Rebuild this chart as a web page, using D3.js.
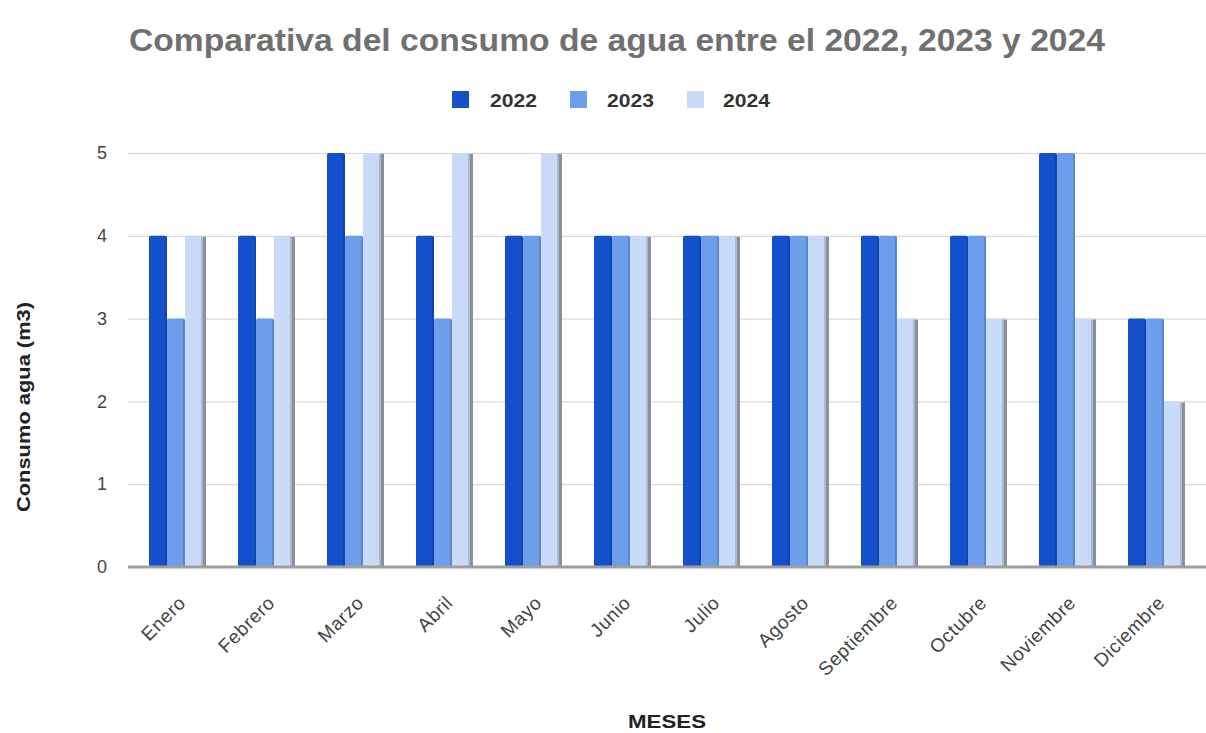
<!DOCTYPE html>
<html><head><meta charset="utf-8">
<script src="https://cdn.jsdelivr.net/npm/d3@7"></script>
<style>body{margin:0;background:#fff}svg{display:block}text{font-family:Arial,"Liberation Sans",sans-serif}</style>
</head><body><svg id="c" width="1206" height="733"></svg>
<script>
const months = ["Enero","Febrero","Marzo","Abril","Mayo","Junio","Julio","Agosto","Septiembre","Octubre","Noviembre","Diciembre"];
const seriesNames = ["2022","2023","2024"];
const v2022 = [4,4,5,4,4,4,4,4,4,4,5,3];
const v2023 = [3,3,4,3,4,4,4,4,4,4,5,3];
const v2024 = [4,4,5,5,5,4,4,4,3,3,3,2];
const yTicks = [0,1,2,3,4,5];
const colors = ["#1450cc","#6d9eeb","#c9daf8"];
const values = [v2022, v2023, v2024];
const FONT = "Arial, 'Liberation Sans', sans-serif";

const svg = d3.select("#c");
const x = d3.scaleBand().domain(months).range([131.5,1199.5]);
const y = d3.scaleLinear().domain([0,5]).range([567,153]);
const xs = d3.scaleBand().domain(seriesNames).range([0,54]);

// title
svg.append("text").attr("x",617).attr("y",51).attr("text-anchor","middle")
  .attr("font-size",31).attr("font-weight","bold").attr("fill","#707070")
  .attr("textLength",976).attr("lengthAdjust","spacingAndGlyphs")
  .text("Comparativa del consumo de agua entre el 2022, 2023 y 2024");

// legend
const lg = svg.append("g");
const sq = [452,570,687];
const lt = [490,607,723];
seriesNames.forEach((s,i)=>{
  lg.append("rect").attr("x",sq[i]).attr("y",91).attr("width",17).attr("height",17).attr("fill",colors[i]);
  lg.append("text").attr("x",lt[i]).attr("y",107).attr("font-size",18).attr("font-weight","bold").attr("fill","#333")
    .attr("textLength",47).attr("lengthAdjust","spacingAndGlyphs").text(s);
});

// grid
const yAxis = d3.axisLeft(y).tickValues(yTicks).tickFormat(d3.format("d")).tickSize(-(1206-128)).tickPadding(21);
const ga = svg.append("g").attr("transform","translate(128,0)").call(yAxis);
ga.select(".domain").remove();
ga.selectAll(".tick line").attr("stroke","#d0d0d0").attr("stroke-width",1);
ga.selectAll(".tick text").attr("font-size",18).attr("fill","#444").attr("font-family",FONT);

// bars
const groups = svg.append("g").selectAll("g").data(months).join("g")
  .attr("transform",d=>`translate(${x(d)+x.bandwidth()/2-27},0)`);
groups.each(function(m,mi){
  const g = d3.select(this);
  seriesNames.forEach((s,si)=>{
    const val = values[si][mi];
    if(si===2){
      g.append("rect").attr("x",xs(s)+3).attr("y",y(val)+1).attr("width",xs.bandwidth()).attr("height",y(0)-y(val)-1)
        .attr("fill","#8a8f99");
    }
    g.append("rect").attr("x",xs(s)).attr("y",y(val)).attr("width",xs.bandwidth()).attr("height",y(0)-y(val))
      .attr("rx",2).attr("fill",colors[si]);
    g.append("rect").attr("x",xs(s)+xs.bandwidth()-2).attr("y",y(val)+1).attr("width",2).attr("height",y(0)-y(val)-1)
      .attr("fill","#000").attr("opacity",0.15);
  });
});

// baseline
svg.append("line").attr("x1",128).attr("x2",1206).attr("y1",y(0)).attr("y2",y(0)).attr("stroke","#9e9e9e").attr("stroke-width",3);

// x labels
const xAxis = d3.axisBottom(x).tickSize(0).tickPadding(0);
const gx = svg.append("g").attr("transform",`translate(0,${y(0)})`).call(xAxis);
gx.select(".domain").remove();
gx.selectAll(".tick text").attr("font-size",19).attr("fill","#444").attr("text-anchor","end")
  .attr("font-family",FONT).attr("letter-spacing",0.6)
  .attr("transform","translate(11,37) rotate(-45)").attr("dy","0");

// axis titles
svg.append("text").attr("transform","translate(30,407) rotate(-90)").attr("text-anchor","middle")
  .attr("font-size",19).attr("font-weight","bold").attr("fill","#222")
  .attr("textLength",210).attr("lengthAdjust","spacingAndGlyphs").text("Consumo agua (m3)");
svg.append("text").attr("x",667).attr("y",728).attr("text-anchor","middle")
  .attr("font-size",19).attr("font-weight","bold").attr("fill","#222")
  .attr("textLength",78).attr("lengthAdjust","spacingAndGlyphs").text("MESES");
</script></body></html>
